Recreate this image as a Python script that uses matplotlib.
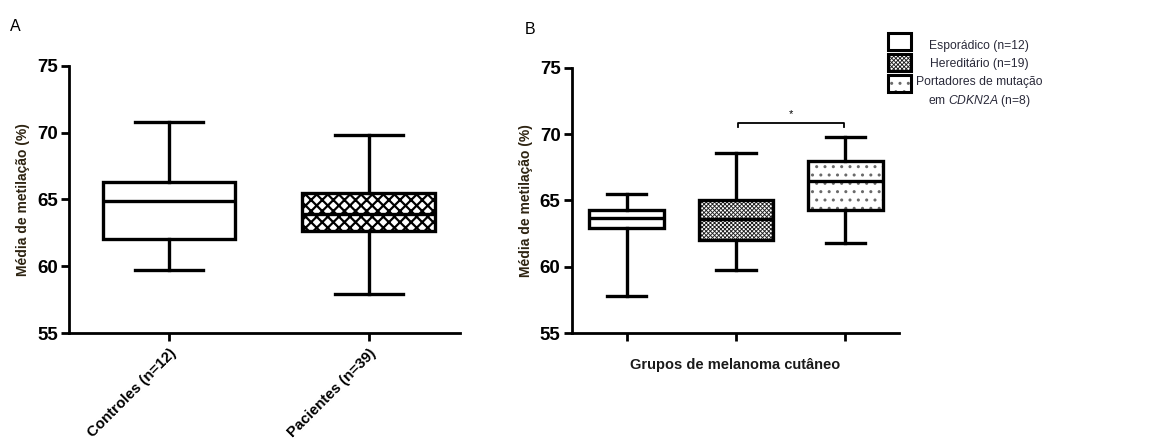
import matplotlib
matplotlib.use("Agg")
import matplotlib.pyplot as plt
from matplotlib.colors import to_rgba
from matplotlib.patches import Rectangle

plt.rcParams['font.family'] = ['Liberation Sans', 'DejaVu Sans']
plt.rcParams['mathtext.fontset'] = 'custom'
plt.rcParams['mathtext.it'] = 'Liberation Sans:italic'
plt.rcParams['mathtext.rm'] = 'Liberation Sans'

# Panel A: controls vs patients (whisker low, Q1, median, Q3, whisker high)
a_labels = ["Controles (n=12)", "Pacientes (n=39)"]
a_whislo = [59.7, 57.9]
a_q1 = [62.0, 62.6]
a_med = [64.9, 63.9]
a_q3 = [66.3, 65.5]
a_whishi = [70.8, 69.8]
a_hatch = [None, "xxx"]
a_hatch_color = ["black", "black"]
a_hatch_lw = [1.0, 1.6]

# Panel B: cutaneous melanoma groups
b_labels = ["Esporádico (n=12)", "Hereditário (n=19)",
            "Portadores de mutação\nem $\\mathit{CDKN2A}$ (n=8)"]
b_whislo = [57.8, 59.8, 61.8]
b_q1 = [62.9, 62.0, 64.3]
b_med = [63.7, 63.6, 66.5]
b_q3 = [64.3, 65.0, 68.0]
b_whishi = [65.5, 68.6, 69.8]
b_hatch = [None, "xxxxxxxx", ".."]
b_hatch_color = ["black", "#1e1e1e", "#6a6a6a"]
b_hatch_lw = [1.0, 0.65, 1.0]

yticks = [55, 60, 65, 70, 75]
ylabel = "Média de metilação (%)"
lw = 2.4

fig = plt.figure(figsize=(11.6, 4.47), dpi=100)
axA = fig.add_axes([0.0595, 0.255, 0.337, 0.598])
axB = fig.add_axes([0.4928, 0.2544, 0.2822, 0.5942])


def make_stats(lo, q1, med, q3, hi):
    return [dict(whislo=l, q1=a, med=m, q3=b, whishi=h, fliers=[])
            for l, a, m, b, h in zip(lo, q1, med, q3, hi)]


def apply_hatch(patch, hatch, color, hlw):
    if hatch:
        patch.set_hatch(hatch)
        patch.set_hatch_linewidth(hlw)
        patch._hatch_color = to_rgba(color)


def draw_boxes(ax, stats, hatches, hcolors, hlws, width, capw):
    pos = list(range(1, len(stats) + 1))
    art = ax.bxp(stats, positions=pos, widths=width, patch_artist=True,
                 showfliers=False, capwidths=capw,
                 boxprops=dict(linewidth=lw, edgecolor="black", facecolor="white"),
                 medianprops=dict(linewidth=lw, color="black"),
                 whiskerprops=dict(linewidth=lw, color="black"),
                 capprops=dict(linewidth=lw, color="black"))
    for box, h, hc, hl in zip(art["boxes"], hatches, hcolors, hlws):
        apply_hatch(box, h, hc, hl)
    return art


def style_axis(ax):
    for s in ["top", "right"]:
        ax.spines[s].set_visible(False)
    for s in ["left", "bottom"]:
        ax.spines[s].set_linewidth(2.0)
    ax.set_ylim(55, 75)
    ax.set_yticks(yticks)
    ax.tick_params(axis="y", length=6, width=2.0, labelsize=13.5, pad=2)
    ax.tick_params(axis="x", length=6, width=2.0)
    for t in ax.get_yticklabels():
        t.set_fontweight("bold")
    ax.set_ylabel(ylabel, fontsize=10, fontweight="bold", color="#2e2412",
                  labelpad=5)


statsA = make_stats(a_whislo, a_q1, a_med, a_q3, a_whishi)
draw_boxes(axA, statsA, a_hatch, a_hatch_color, a_hatch_lw, 0.665, 0.34)
style_axis(axA)
axA.set_xlim(0.5, 2.455)
axA.set_xticks([1, 2])
axA.set_xticklabels(a_labels, rotation=45, ha="right", rotation_mode="anchor",
                    fontsize=10.8, fontweight="bold")

statsB = make_stats(b_whislo, b_q1, b_med, b_q3, b_whishi)
draw_boxes(axB, statsB, b_hatch, b_hatch_color, b_hatch_lw, 0.68, 0.36)
style_axis(axB)
axB.set_xlim(0.497, 3.49)
axB.set_xticks([1, 2, 3])
axB.set_xticklabels([])
axB.set_xlabel("Grupos de melanoma cutâneo", fontsize=10.5, fontweight="bold",
               color="#1a1a1a", labelpad=8)

# significance bracket between groups 2 and 3
yb = 70.8
axB.plot([2.02, 2.02, 2.99, 2.99], [yb - 0.3, yb, yb, yb - 0.3],
         color="black", lw=1.3, clip_on=False)
axB.text(2.5, yb + 0.35, "*", ha="center", va="bottom", fontsize=8)

# panel letters
fig.text(0.009, 0.93, "A", fontsize=11.5)
fig.text(0.452, 0.925, "B", fontsize=11.5)

# legend for panel B
lx, lw_box, lh_box = 888 / 1160, 23 / 1160, 17 / 447
rows_y = [33, 54, 75]
text_y = [45.7, 64, 92.5]
for y0, h, hc, hl, lab, ty in zip(rows_y, b_hatch, b_hatch_color, b_hatch_lw,
                                  b_labels, text_y):
    r = Rectangle((lx, 1 - (y0 + 17) / 447), lw_box, lh_box,
                  transform=fig.transFigure, facecolor="white",
                  edgecolor="black", linewidth=2.2)
    apply_hatch(r, h, hc, hl)
    fig.patches.append(r)
    fig.text(979 / 1160, 1 - ty / 447, lab, ha="center", va="center",
             multialignment="center", fontsize=8.7, color="#2a2a3a",
             linespacing=1.45)

fig.savefig("out.png", dpi=100, facecolor="white")
